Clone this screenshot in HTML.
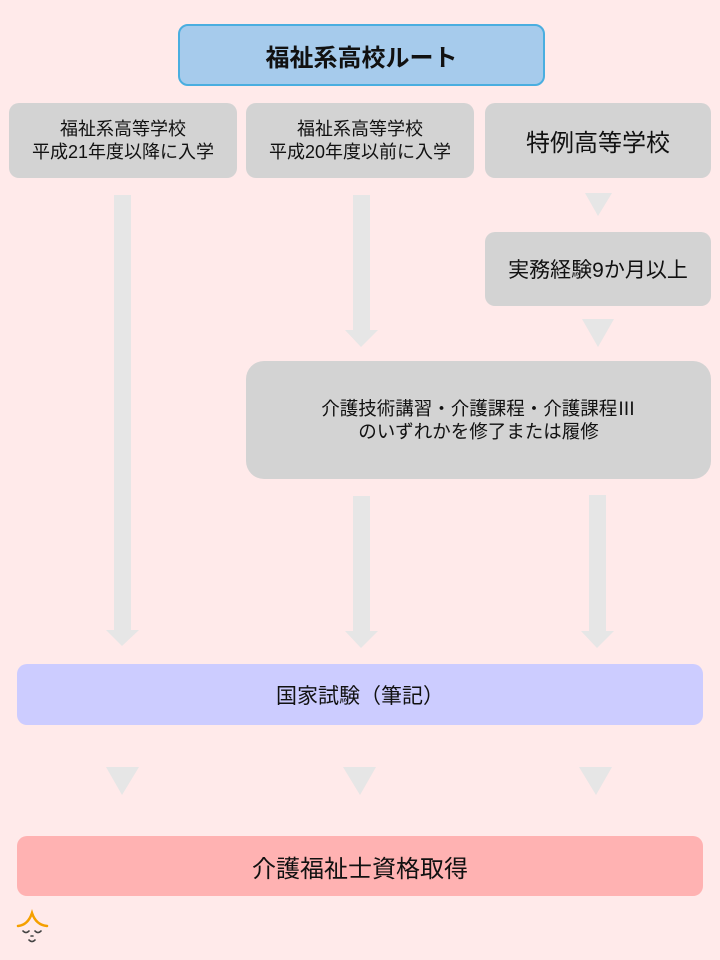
<!DOCTYPE html>
<html><head><meta charset="utf-8"><style>
body{margin:0;background:#ffeaea;}
#c{position:relative;width:720px;height:960px;overflow:hidden;font-family:"Liberation Sans","Noto Sans CJK JP",sans-serif;color:#111;}
.b{position:absolute;display:flex;align-items:center;justify-content:center;text-align:center;box-sizing:border-box;}
.g{background:#d3d3d3;border-radius:10px;}
</style></head><body><div id="c">
<div class="b" style="left:178px;top:24px;width:367px;height:62px;background:#a6cbec;border:2px solid #4aaee0;border-radius:10px;font-size:24px;font-weight:bold;">福祉系高校ルート</div>
<div class="b g" style="left:9px;top:103px;width:228px;height:75px;font-size:18px;line-height:23px;">福祉系高等学校<br>平成21年度以降に入学</div>
<div class="b g" style="left:246px;top:103px;width:228px;height:75px;font-size:18px;line-height:23px;">福祉系高等学校<br>平成20年度以前に入学</div>
<div class="b g" style="left:485px;top:103px;width:226px;height:75px;font-size:24px;">特例高等学校</div>
<div class="b g" style="left:485px;top:232px;width:226px;height:74px;font-size:21px;">実務経験9か月以上</div>
<div class="b g" style="left:246px;top:361px;width:465px;height:118px;border-radius:18px;font-size:18.5px;line-height:23px;">介護技術講習・介護課程・介護課程Ⅲ<br>のいずれかを修了または履修</div>
<div class="b" style="left:17px;top:664px;width:686px;height:61px;background:#ccccff;border-radius:10px;font-size:21px;">国家試験（筆記）</div>
<div class="b" style="left:17px;top:836px;width:686px;height:60px;background:#ffb2b2;border-radius:10px;font-size:24px;">介護福祉士資格取得</div>
<svg width="720" height="960" style="position:absolute;left:0;top:0" fill="#e6e6e6">
<rect x="114" y="195" width="17" height="436"/><polygon points="106,630 139,630 122,646"/>
<rect x="353" y="195" width="17" height="136"/><polygon points="345,330 378,330 361,347"/>
<polygon points="585,193 612,193 598,216"/>
<polygon points="582,319 614,319 598,347"/>
<rect x="353" y="496" width="17" height="136"/><polygon points="345,631 378,631 361,648"/>
<rect x="589" y="495" width="17" height="136"/><polygon points="581,631 614,631 597,648"/>
<polygon points="106,767 139,767 122,795"/>
<polygon points="343,767 376,767 360,795"/>
<polygon points="579,767 612,767 596,795"/>
<path d="M18,926 Q28,925 32,913 Q36,925 47,926" fill="none" stroke="#f5a000" stroke-width="2.5" stroke-linecap="round"/>
<path d="M23,931 q3,3 6,0 M35,931 q3,3 6,0 M29,940 q3,3 6,0 M31,936 h2" fill="none" stroke="#444" stroke-width="1.6" stroke-linecap="round"/>
</svg>
</div></body></html>
